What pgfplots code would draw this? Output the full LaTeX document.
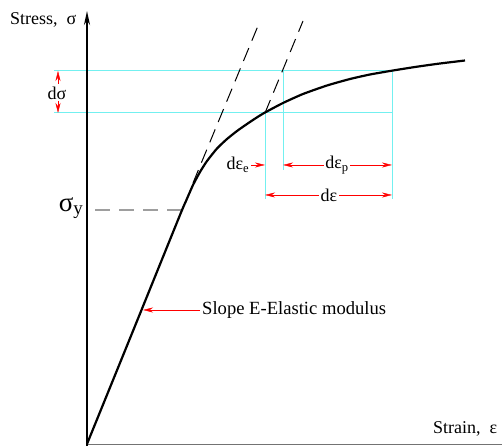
\documentclass[border=0pt]{standalone}
\usepackage{fontspec}
\setmainfont{Liberation Serif}
\usepackage{pgfplots}
\pgfplotsset{compat=1.18}
\usetikzlibrary{arrows.meta}

\definecolor{guide}{rgb}{0.45,0.94,0.94}
\definecolor{dashgray}{rgb}{0.62,0.62,0.62}
\newcommand{\lbl}{\fontsize{18bp}{20bp}\selectfont}

\begin{document}
\begin{tikzpicture}[>={Stealth[length=10bp,width=5bp]}]
\begin{axis}[
    width=503bp, height=446bp, scale only axis,
    xmin=0, xmax=503, ymin=0, ymax=446,
    hide axis, clip=false
]
\path (axis cs:0,0) rectangle (axis cs:503,446);

% guide lines
\addplot[guide, line width=1bp] coordinates {(54,375) (392,375)};
\addplot[guide, line width=1bp] coordinates {(54,333) (392,333)};
\addplot[guide, line width=1bp] coordinates {(265,333) (265,247)};
\addplot[guide, line width=1bp] coordinates {(283,375) (283,276)};
\addplot[guide, line width=1bp] coordinates {(392,375) (392,247)};

% axes
\draw[black!55, line width=1bp] (axis cs:87,1) -- (axis cs:502,1);
\draw[line width=2bp, -{Stealth[length=14bp,width=6bp]}] (axis cs:87,0) -- (axis cs:87,435);

% yield line
\addplot[dashgray, line width=2bp, dash pattern=on 15bp off 9bp] coordinates {(95,236) (182,236)};

% elastic slope lines
\addplot[black, line width=1bp, dash pattern=on 14bp off 8bp] coordinates {(193,263) (260,425)};
\addplot[black, line width=1bp, dash pattern=on 14bp off 8bp] coordinates {(265,333) (303,425)};

% stress-strain curve
\addplot[black, line width=2.2bp, smooth, tension=0.35] coordinates {
    (87,2) (135,120) (180,231) (186,245) (193,261) (200,274) (207,285)
    (217,297.5) (227,307) (237,315) (247,322) (256,328) (265,333.5)
    (283,343) (303,352) (327,360.5) (350,367) (370,371.5) (393,375.5)
    (417,379.3) (440,382.5) (465,385.5)
};

% annotations
\draw[red, ->] (axis cs:58,362) -- (axis cs:58,375);
\draw[red, ->] (axis cs:58,345) -- (axis cs:58,333);
\node[font=\lbl] at (axis cs:57,353) {dσ};

\node[font=\fontsize{27bp}{29bp}\selectfont] at (axis cs:71,238) {σ\textsubscript{y}};

\draw[red, ->] (axis cs:251,281) -- (axis cs:265,281);
\node[font=\lbl] at (axis cs:238,281) {dε\textsubscript{e}};

\draw[red, <->] (axis cs:283,281) -- (axis cs:392,281);
\node[font=\lbl, fill=white, inner sep=1.5bp] at (axis cs:337,281) {dε\textsubscript{p}};

\draw[red, <->] (axis cs:265,251) -- (axis cs:392,251);
\node[font=\lbl, fill=white, inner sep=1.5bp] at (axis cs:329,251) {dε};

\draw[red, ->] (axis cs:200,136) -- (axis cs:143,136);
\node[font=\fontsize{18.6bp}{20bp}\selectfont, anchor=west, inner sep=1bp] at (axis cs:201,136) {Slope E-Elastic modulus};

\node[font=\lbl, anchor=west, inner sep=0pt] at (axis cs:10,426) {Stress,\ \ σ};
\node[font=\lbl, anchor=west, inner sep=0pt] at (axis cs:433,17) {Strain,\ \ ε};
\end{axis}
\end{tikzpicture}
\end{document}
